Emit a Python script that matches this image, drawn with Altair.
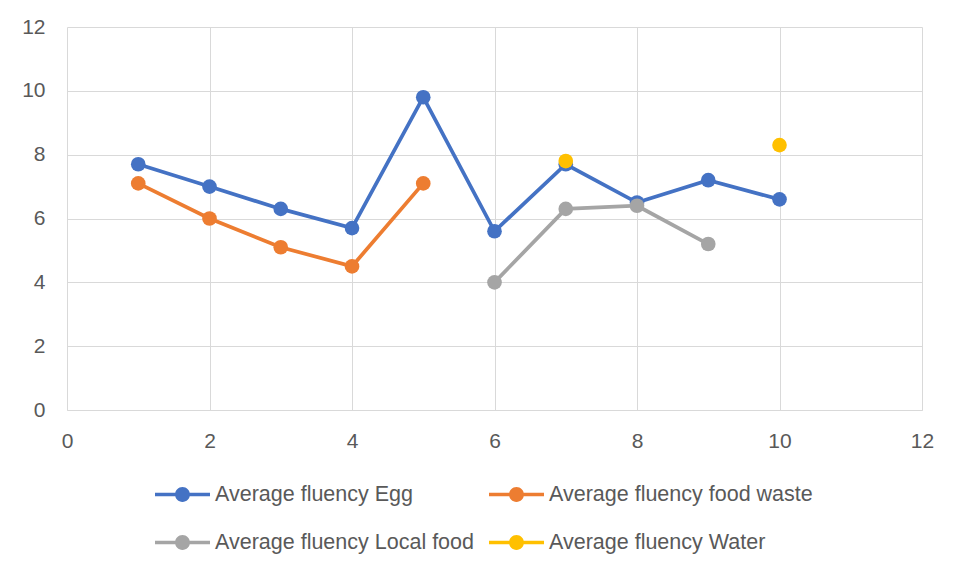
import altair as alt
import pandas as pd

x_vals = [1, 2, 3, 4, 5, 6, 7, 8, 9, 10]
egg = [7.7, 7.0, 6.3, 5.7, 9.8, 5.6, 7.7, 6.5, 7.2, 6.6]
food_waste = [7.1, 6.0, 5.1, 4.5, 7.1, None, None, None, None, None]
local_food = [None, None, None, None, None, 4.0, 6.3, 6.4, 5.2, None]
water = [None, None, None, None, None, None, 7.8, None, None, 8.3]

series_names = [
    "Average fluency Egg",
    "Average fluency food waste",
    "Average fluency Local food",
    "Average fluency Water",
]
series_vals = [egg, food_waste, local_food, water]
colors = ["#4472C4", "#ED7D31", "#A5A5A5", "#FFC000"]
x_ticks = [0, 2, 4, 6, 8, 10, 12]
y_ticks = [0, 2, 4, 6, 8, 10, 12]

rows = []
for order, (name, vals) in enumerate(zip(series_names, series_vals)):
    seg = 0
    for xv, yv in zip(x_vals, vals):
        if yv is None:
            seg += 1
            continue
        rows.append({"x": xv, "y": yv, "series": name, "order": order,
                     "seg": f"{name}-{seg}"})
df = pd.DataFrame(rows)

# line + circle legend glyph (unit box coordinates)
glyph = ("M-1,-0.06H1V0.06H-1Z "
         "M0.27,0A0.27,0.27,0,1,1,-0.27,0A0.27,0.27,0,1,1,0.27,0Z")

font = "Liberation Sans"
label_color = "#595959"
grid_color = "#D9D9D9"

x_enc = alt.X("x:Q", scale=alt.Scale(domain=[0, 12], nice=False),
              axis=alt.Axis(values=x_ticks, title=None, grid=True,
                            gridColor=grid_color, domainColor=grid_color,
                            ticks=False, labelPadding=20, labelFontSize=21,
                            labelFont=font, labelColor=label_color,
                            labelFlush=False))
y_enc = alt.Y("y:Q", scale=alt.Scale(domain=[0, 12], nice=False),
              axis=alt.Axis(values=y_ticks, title=None, grid=True,
                            gridColor=grid_color, domain=False,
                            ticks=False, labelPadding=22, labelFontSize=21,
                            labelFont=font, labelColor=label_color))
color_scale = alt.Scale(domain=series_names, range=colors)

legend = alt.Legend(
    title=None, orient="none", legendX=88, legendY=440,
    direction="horizontal", columns=2, symbolType=glyph, symbolSize=3025,
    symbolStrokeWidth=0, symbolOpacity=1,
    labelFont=font, labelFontSize=21.5,
    labelColor=label_color, labelOffset=5,
    columnPadding=15, rowPadding=10, padding=0,
    labelLimit=400)

lines = alt.Chart(df).mark_line(strokeWidth=3.75).encode(
    x=x_enc, y=y_enc,
    color=alt.Color("series:N", scale=color_scale, legend=legend),
    detail="seg:N",
    order="x:Q",
)

points = alt.Chart(df).mark_circle(size=215, opacity=1).encode(
    x=x_enc, y=y_enc,
    color=alt.Color("series:N", scale=color_scale, legend=legend),
    order="order:Q",
)

chart = alt.layer(lines, points).properties(
    width=855, height=383,
    autosize=alt.AutoSizeParams(type="none"),
    padding={"left": 59, "top": 19, "right": 33, "bottom": 156},
).configure_view(stroke=None)

chart.save("out.html", embed_options={"renderer": "svg", "actions": False})
